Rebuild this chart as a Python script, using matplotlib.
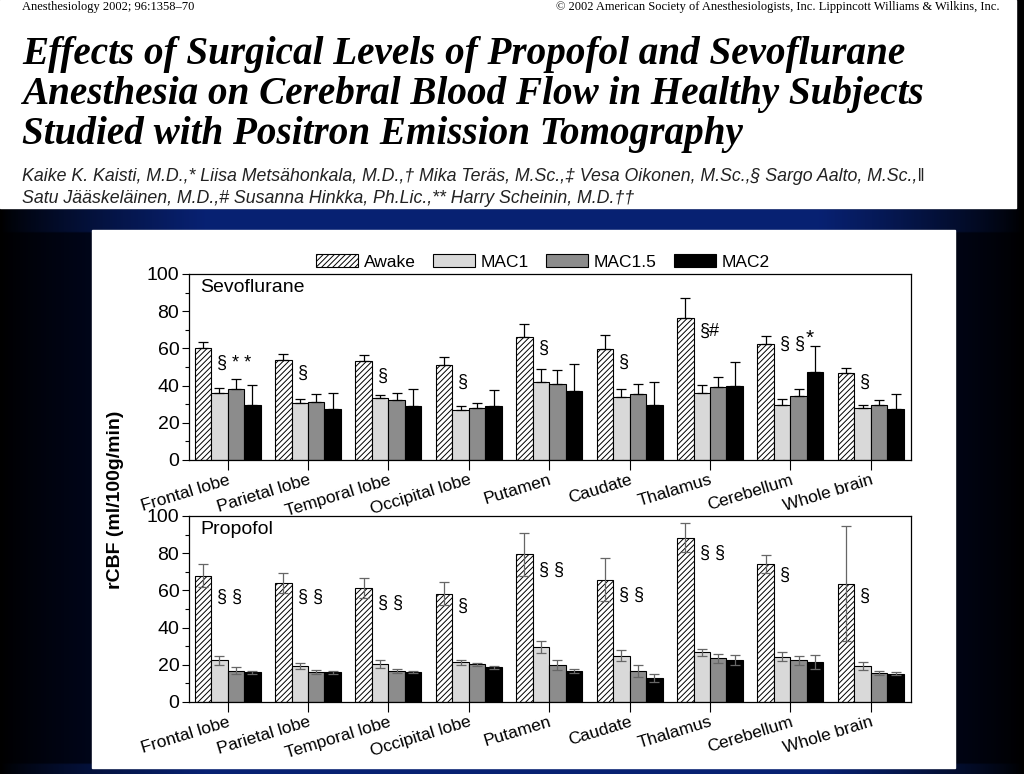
import numpy as np
import matplotlib
matplotlib.use("Agg")
import matplotlib.pyplot as plt
from matplotlib.patches import Rectangle
from matplotlib.ticker import MultipleLocator

plt.rcParams['font.family'] = ['Liberation Sans', 'DejaVu Sans']
plt.rcParams['hatch.linewidth'] = 0.7

regions = ["Frontal lobe", "Parietal lobe", "Temporal lobe", "Occipital lobe", "Putamen",
           "Caudate", "Thalamus", "Cerebellum", "Whole brain"]
levels = ["Awake", "MAC1", "MAC1.5", "MAC2"]

# Sevoflurane: means and SD (upper whisker only)
sevo_awake = [60, 53.6, 53, 51, 66, 59.7, 76.2, 62.2, 46.6]
sevo_mac1 = [35.8, 30.6, 33.2, 26.7, 42.1, 34, 35.8, 29.4, 27.8]
sevo_mac15 = [38.4, 31, 32.3, 27.8, 40.9, 35.3, 39.1, 34.4, 29.4]
sevo_mac2 = [29.6, 27.2, 29, 29, 36.9, 29.6, 40, 47.1, 27.2]
sevo_awake_sd = [3.6, 3.4, 3.3, 4.6, 7.1, 7.5, 11.1, 4.5, 2.7]
sevo_mac1_sd = [2.7, 2.4, 1.9, 2.2, 6.6, 4.2, 4.3, 3.2, 1.8]
sevo_mac15_sd = [5.1, 4.3, 3.5, 3.0, 7.3, 5.6, 5.7, 4.0, 2.9]
sevo_mac2_sd = [10.7, 8.6, 9, 8.6, 14.5, 12.2, 12.5, 14.2, 8.5]

# Propofol: means and SD (both whiskers)
prop_awake = [68, 64, 61.2, 58.3, 79.4, 65.8, 88.4, 74.2, 63.7]
prop_mac1 = [22.4, 19.3, 20.4, 21.3, 29.5, 25, 26.8, 24.3, 19.3]
prop_mac15 = [16.8, 16.1, 16.6, 20.2, 19.7, 16.6, 23.4, 22.4, 15.7]
prop_mac2 = [15.9, 15.9, 16.1, 18.6, 16.8, 12.9, 22.5, 21.6, 15.2]
prop_awake_sd = [6.4, 5.2, 5.5, 6.2, 11.5, 11.5, 7.8, 4.7, 30.8]
prop_mac1_sd = [2.6, 1.6, 2.1, 1.2, 3.2, 3.1, 1.8, 2.5, 2.0]
prop_mac15_sd = [1.8, 0.9, 1.1, 0.9, 2.7, 3.3, 2.4, 2.6, 1.1]
prop_mac2_sd = [0.9, 0.6, 0.7, 0.9, 1.1, 1.9, 2.7, 3.8, 0.9]

sevo_marks = ["§ * *", "§", "§", "§", "§", "§", "§#", "§ §", "§"]
sevo_mark_y = [52, 46.6, 45, 41.5, 60, 52.3, 69.4, 62, 41.8]
prop_marks = ["§ §", "§ §", "§ §", "§", "§ §", "§ §", "§ §", "§", "§"]
prop_mark_y = [56.5, 56.5, 53, 51.5, 71, 57.4, 79.8, 68, 57]

W, H = 1024, 774
fig = plt.figure(figsize=(W / 100, H / 100), dpi=100)

# dark blue slide background
bg = fig.add_axes([0, 0, 1, 1])
bg.set_axis_off()
xs = np.linspace(0, 1, 400)
h = np.clip(np.minimum(xs, 1 - xs) / 0.2, 0, 1) ** 0.8
ys = np.linspace(0, 1, 300)[:, None]
dark = np.array([0.0, 0.04, 0.19])
light = np.array([0.03, 0.13, 0.45])
band = ((ys > 208 / H) & (ys < 232 / H)) | (ys > 766 / H)
col = np.where(band[..., None], light, dark)
img = col * h[None, :, None]
bg.imshow(img, extent=[0, 1, 1, 0], aspect='auto')
bg.set_xlim(0, 1)
bg.set_ylim(1, 0)

# paper header and white chart panel
bg.add_patch(Rectangle((0, 0), 1016 / W, 208 / H, color='white', zorder=2))
bg.add_patch(Rectangle((92 / W, 230 / H), (955 - 92) / W, (768 - 230) / H, color='white', zorder=2))

serif = ['Liberation Serif', 'DejaVu Serif']
fig.text(22 / W, 1 - 10 / H, "Anesthesiology 2002; 96:1358–70", family=serif, fontsize=9, va='baseline')
fig.text(1000 / W, 1 - 10 / H, "© 2002 American Society of Anesthesiologists, Inc. Lippincott Williams & Wilkins, Inc.",
         family=serif, fontsize=9, va='baseline', ha='right')
title_lines = ["Effects of Surgical Levels of Propofol and Sevoflurane",
               "Anesthesia on Cerebral Blood Flow in Healthy Subjects",
               "Studied with Positron Emission Tomography"]
for k, line in enumerate(title_lines):
    fig.text(22 / W, 1 - (64 + 40 * k) / H, line, family=serif, fontsize=28.2, fontweight='bold',
             style='italic', va='baseline')
author_lines = ["Kaike K. Kaisti, M.D.,* Liisa Metsähonkala, M.D.,† Mika Teräs, M.Sc.,‡ Vesa Oikonen, M.Sc.,§ Sargo Aalto, M.Sc.,‖",
                "Satu Jääskeläinen, M.D.,# Susanna Hinkka, Ph.Lic.,** Harry Scheinin, M.D.††"]
for k, line in enumerate(author_lines):
    fig.text(22 / W, 1 - (181 + 22 * k) / H, line, fontsize=12.8, style='italic', color='#222222',
             va='baseline')

styles = [dict(facecolor='white', hatch='//////'),
          dict(facecolor='#d9d9d9'),
          dict(facecolor='#8c8c8c'),
          dict(facecolor='black')]
bw = 0.205
x = np.arange(len(regions))


def draw_panel(ax, series, sds, label, marks, mark_y, both):
    for j, (vals, sd) in enumerate(zip(series, sds)):
        pos = x + (j - 1.5) * bw
        lower = np.array(sd) if both else np.zeros(len(sd))
        ax.bar(pos, vals, bw, edgecolor='black', linewidth=0.8, label=levels[j], **styles[j])
        ecol = '#666666' if both else 'black'
        ax.errorbar(pos, vals, yerr=[lower, sd], fmt='none', ecolor=ecol, elinewidth=0.9,
                    capsize=3.5, capthick=0.9)
    for i, (m, my) in enumerate(zip(marks, mark_y)):
        ax.text(i - 0.13, my, m, fontsize=13, ha='left', va='center')
    if label == "Sevoflurane":
        ax.text(7 - 0.13 + 0.32, 65.5, "*", fontsize=15, ha='left', va='center')
    ax.text(0.016, 0.93, label, transform=ax.transAxes, fontsize=14, va='center')
    ax.set_xlim(-0.48, 8.5)
    ax.set_ylim(0, 100)
    ax.yaxis.set_major_locator(MultipleLocator(20))
    ax.yaxis.set_minor_locator(MultipleLocator(10))
    ax.set_xticks(x)
    ax.set_xticklabels(regions, rotation=17, ha='right', rotation_mode='anchor', fontsize=12.5)
    ax.tick_params(axis='y', labelsize=14, length=5, width=0.8, pad=2)
    ax.tick_params(axis='y', which='minor', length=3, width=0.8)
    ax.tick_params(axis='x', length=7, width=0.8, pad=2)
    for s in ax.spines.values():
        s.set_linewidth(0.9)


ax1 = fig.add_axes([189 / W, 1 - 460 / H, 722 / W, 186 / H])
draw_panel(ax1, [sevo_awake, sevo_mac1, sevo_mac15, sevo_mac2],
           [sevo_awake_sd, sevo_mac1_sd, sevo_mac15_sd, sevo_mac2_sd],
           "Sevoflurane", sevo_marks, sevo_mark_y, False)

ax2 = fig.add_axes([189 / W, 1 - 702 / H, 722 / W, 186 / H])
draw_panel(ax2, [prop_awake, prop_mac1, prop_mac15, prop_mac2],
           [prop_awake_sd, prop_mac1_sd, prop_mac15_sd, prop_mac2_sd],
           "Propofol", prop_marks, prop_mark_y, True)

handles, labels = ax1.get_legend_handles_labels()
fig.legend(handles, labels, loc='center', bbox_to_anchor=(543 / W, 1 - 262 / H), ncol=4,
           frameon=False, fontsize=12.5, handlelength=2.4, handleheight=0.8, columnspacing=1.0,
           handletextpad=0.35)

fig.text(116 / W, 1 - 500 / H, "rCBF (ml/100g/min)", rotation=90, fontsize=14, fontweight='bold',
         ha='center', va='center')

fig.savefig("out.png", dpi=100)
